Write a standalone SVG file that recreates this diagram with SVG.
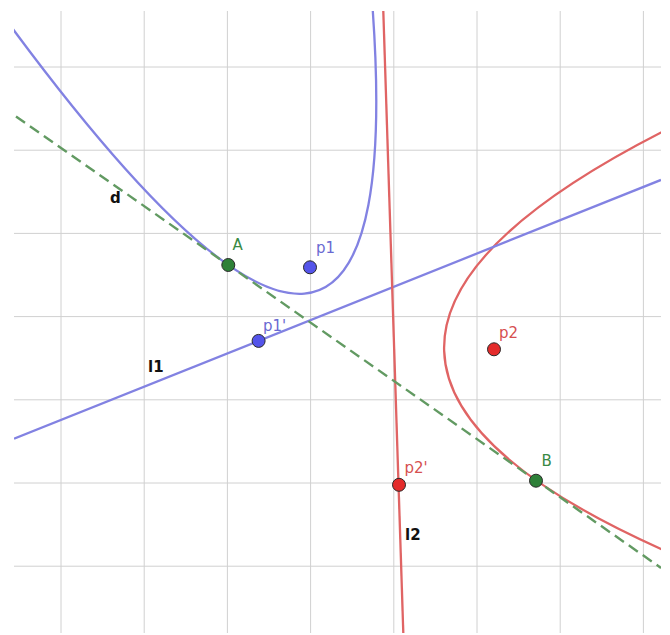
<svg xmlns="http://www.w3.org/2000/svg" width="670" height="635" viewBox="0 0 670 635">
<style>
.grid{stroke:#d0d0d0;stroke-width:1;fill:none}
.blue{stroke:#8282e2;stroke-width:2.3;fill:none}
.red{stroke:#e06464;stroke-width:2.3;fill:none}
.green{stroke:#629a62;stroke-width:2.4;fill:none;stroke-dasharray:11 6}
.pt{stroke:#2a2a2a;stroke-width:1}
.pb{fill:#5454ea}
.pr{fill:#e42b2b}
.pg{fill:#2e8038}
text{font-family:"DejaVu Sans","Liberation Sans",Arial,sans-serif;font-size:15px}
.lb{fill:#6a6ad2}
.lr{fill:#d65050}
.lg{fill:#3a8a44}
.lk{fill:#111;font-weight:bold}
</style>
<defs>
<clipPath id="plot"><rect x="14" y="11" width="647" height="622"/></clipPath>
</defs>
<rect width="670" height="635" fill="#fff"/>
<g id="grid" class="grid">
<path d="M61 11V633M144.2 11V633M227.4 11V633M310.6 11V633M393.8 11V633M477 11V633M560.2 11V633M643.4 11V633"/>
<path d="M14 67H661M14 150.2H661M14 233.4H661M14 316.6H661M14 399.8H661M14 483H661M14 566.2H661"/>
</g>
<g id="connectors" clip-path="url(#plot)">
<path id="parabola1" class="blue" d="M-17.4,-12.6 Q433.4,616.2 368.0,-45.4"/>
<path id="parabola2" class="red" d="M701.8,112.5 Q179.1,359.4 716.6,572.3"/>
<line id="l1" class="blue" x1="14" y1="438.7" x2="661" y2="179.9"/>
<line id="l2" class="red" x1="383.3" y1="11" x2="403.3" y2="633"/>
<line id="d" class="green" x1="16" y1="116.4" x2="661" y2="567.9"/>
</g>
<g id="label-d"><text class="lk" x="110" y="203">d</text></g>
<g id="label-l1"><text class="lk" x="148" y="372">l1</text></g>
<g id="label-l2"><text class="lk" x="405" y="539.5">l2</text></g>
<g id="A"><circle class="pt pg" cx="228.3" cy="265" r="6.5"/><text class="lg" x="232.5" y="250">A</text></g>
<g id="p1"><circle class="pt pb" cx="310" cy="267.3" r="6.5"/><text class="lb" x="316" y="253">p1</text></g>
<g id="p1prime"><circle class="pt pb" cx="258.6" cy="340.9" r="6.5"/><text class="lb" x="263" y="331">p1'</text></g>
<g id="p2"><circle class="pt pr" cx="494" cy="349.3" r="6.5"/><text class="lr" x="499" y="337.5">p2</text></g>
<g id="p2prime"><circle class="pt pr" cx="399" cy="484.8" r="6.5"/><text class="lr" x="404.5" y="473.3">p2'</text></g>
<g id="B"><circle class="pt pg" cx="536" cy="480.7" r="6.5"/><text class="lg" x="541.5" y="466">B</text></g>
</svg>
